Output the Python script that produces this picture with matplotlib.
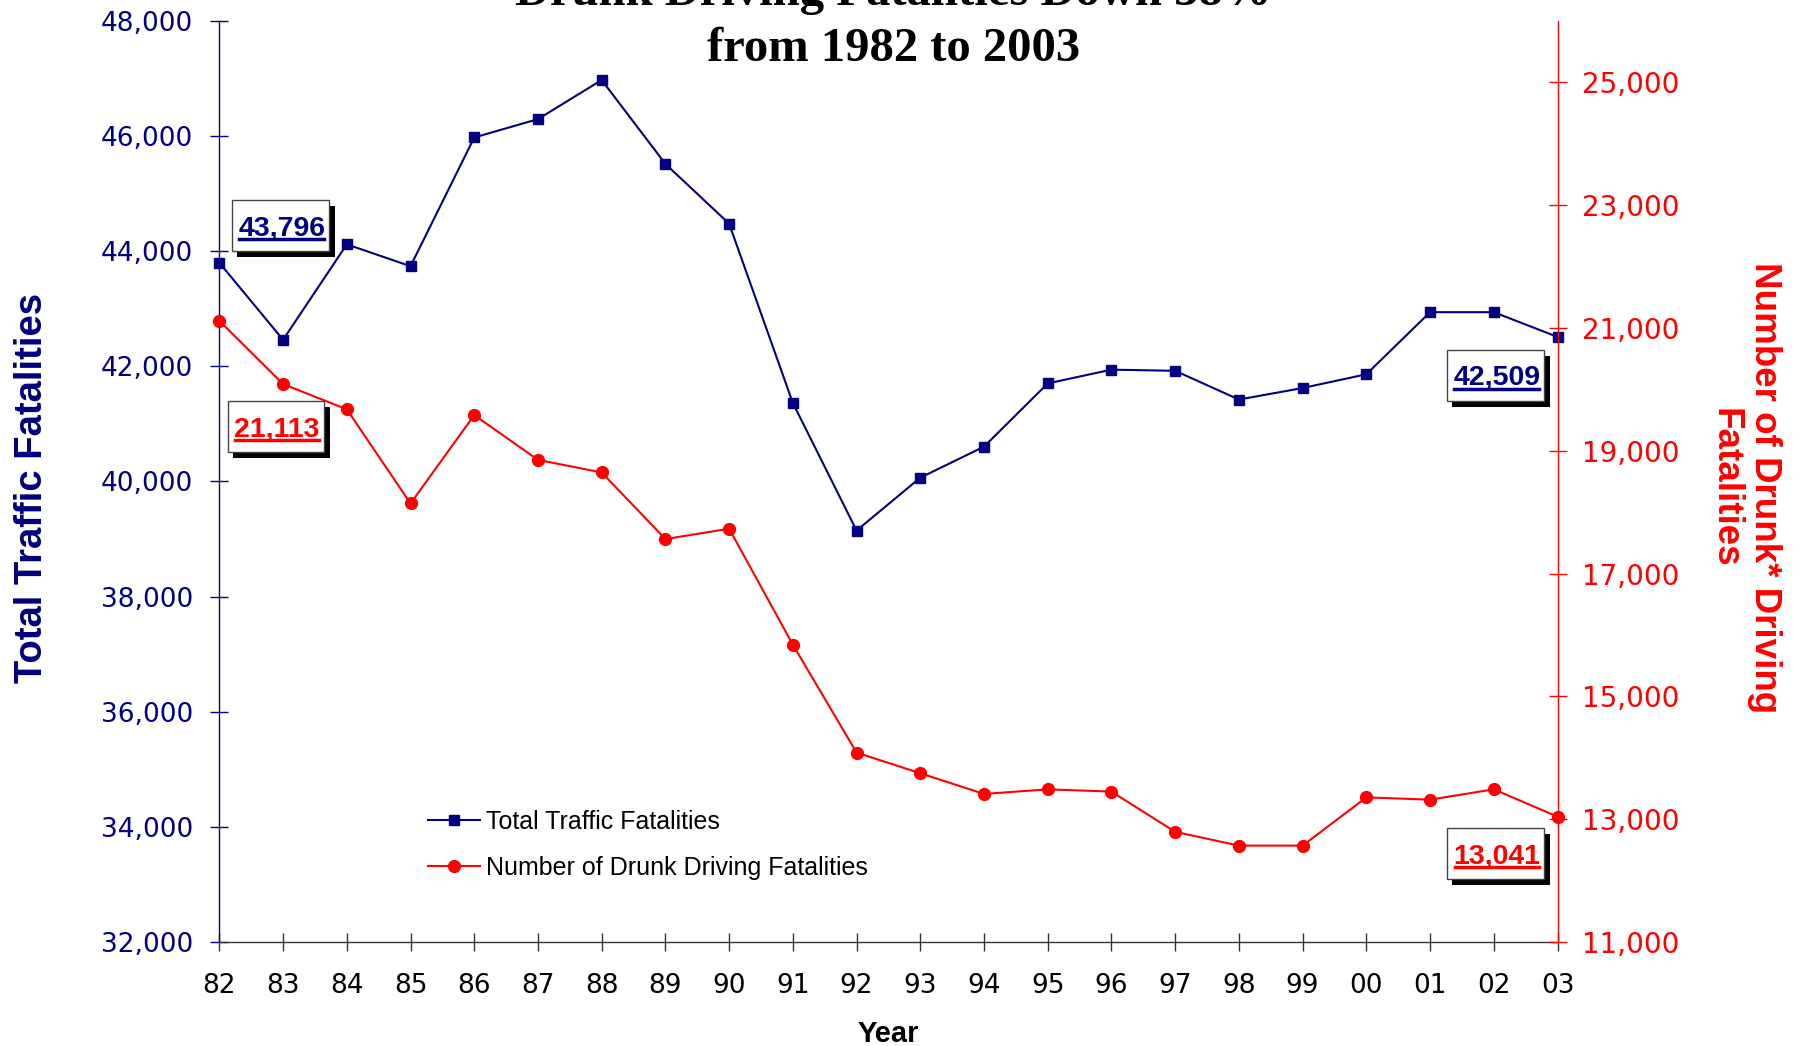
import matplotlib
matplotlib.use("Agg")
import matplotlib.pyplot as plt
from matplotlib.ticker import FuncFormatter
from matplotlib.patches import Rectangle
from matplotlib.lines import Line2D

years = ["82", "83", "84", "85", "86", "87", "88", "89", "90", "91", "92",
         "93", "94", "95", "96", "97", "98", "99", "00", "01", "02", "03"]
total_fatalities = [43796, 42459, 44116, 43737, 45972, 46291, 46970, 45513, 44475,
                    41361, 39146, 40064, 40603, 41701, 41940, 41920, 41421, 41621,
                    41860, 42938, 42938, 42509]
drunk_fatalities = [21113, 20084, 19673, 18140, 19579, 18850, 18645, 17561, 17729,
                    15841, 14084, 13748, 13411, 13486, 13449, 12794, 12570, 12570,
                    13355, 13318, 13486, 13041]
left_ticks = [32000, 34000, 36000, 38000, 40000, 42000, 44000, 46000, 48000]
right_ticks = [11000, 13000, 15000, 17000, 19000, 21000, 23000, 25000]

NAVY = "#000080"
RED = "#FF0000"

fig = plt.figure(figsize=(18.01, 10.46), dpi=100)
ax = fig.add_axes([0.1218, 0.0994, 0.743, 0.8808])
ax2 = ax.twinx()

x = list(range(len(years)))
l1, = ax.plot(x, total_fatalities, color=NAVY, lw=1.5, marker='s', ms=7,
              label="Total Traffic Fatalities", clip_on=False, zorder=3)
l2, = ax2.plot(x, drunk_fatalities, color=RED, lw=1.5, marker='o', ms=8.5,
               label="Number of Drunk Driving Fatalities", clip_on=False, zorder=3)

ax.set_xlim(0, len(years) - 1)
ax.set_ylim(32000, 48000)
ax2.set_ylim(11000, 26000)
ax.set_xticks(x)
ax.set_xticklabels(years)
ax.set_yticks(left_ticks)
ax2.set_yticks(right_ticks)
fmt = FuncFormatter(lambda v, p: f"{v:,.0f}")
ax.yaxis.set_major_formatter(fmt)
ax2.yaxis.set_major_formatter(fmt)

for a in (ax, ax2):
    a.spines['top'].set_visible(False)
    a.set_facecolor('none')
ax.spines['right'].set_visible(False)
ax2.spines['left'].set_visible(False)
ax2.spines['bottom'].set_visible(False)
ax.spines['left'].set_color(NAVY)
ax.spines['left'].set_linewidth(1.0)
ax2.spines['right'].set_color(RED)
ax2.spines['right'].set_linewidth(1.0)
ax.spines['bottom'].set_color('#333333')
ax.spines['bottom'].set_linewidth(1.0)

ax.tick_params(axis='x', direction='inout', length=13, width=1, color='#333333',
               labelsize=19, labelcolor='black', pad=16)
ax.tick_params(axis='y', direction='inout', length=13, width=1, color=NAVY,
               labelsize=19, labelcolor=NAVY, pad=12.5)
ax2.tick_params(axis='y', direction='inout', length=13, width=1, color=RED,
                labelsize=20, labelcolor=RED, pad=11)
for lab in ax.get_xticklabels() + ax.get_yticklabels() + ax2.get_yticklabels():
    lab.set_fontfamily('DejaVu Sans')

ax.set_xlabel("Year", fontsize=21, fontweight='bold', family='Liberation Sans', va='center')
ax.xaxis.set_label_coords(0.5, -0.0995)
ax.set_ylabel("Total Traffic Fatalities", fontsize=27.5, fontweight='bold',
              family='Liberation Sans', color=NAVY, va='center', ha='center')
ax.yaxis.set_label_coords(-0.1400, 0.493)
ax2.set_ylabel("Number of Drunk* Driving\nFatalities", fontsize=26.5, fontweight='bold',
               family='Liberation Sans', color=RED, rotation=270, linespacing=1.15,
               va='center', ha='center')
ax2.yaxis.set_label_coords(1.1400, 0.493)

fig.text(0.496, 0.9953, "Drunk Driving Fatalities Down 38%", ha='center', va='baseline',
         fontsize=35, fontweight='bold', family='Liberation Serif')
fig.text(0.496, 0.9415, "from 1982 to 2003", ha='center', va='baseline',
         fontsize=35, fontweight='bold', family='Liberation Serif')

leg = fig.legend(handles=[l1, l2], loc='upper left', bbox_to_anchor=(0.2305, 0.238),
                 frameon=False, handlelength=2.1, handletextpad=0.25,
                 labelspacing=0.9, borderpad=0, prop={'family': 'Liberation Sans', 'size': 18})

callout_texts = []


def callout(axis, xi, yv, label, color, off):
    t = axis.annotate(label, xy=(xi, yv), xytext=off, textcoords='offset points',
                      ha='center', va='center', fontsize=20.5, fontweight='bold',
                      family='Liberation Sans', color=color, zorder=10)
    callout_texts.append((t, label, color))


callout(ax, 0, total_fatalities[0], f"{total_fatalities[0]:,}", NAVY, (45, 25))
callout(ax2, 0, drunk_fatalities[0], f"{drunk_fatalities[0]:,}", RED, (41.5, -78))
callout(ax, len(years) - 1, total_fatalities[-1], f"{total_fatalities[-1]:,}", NAVY, (-43.6, -29.5))
callout(ax2, len(years) - 1, drunk_fatalities[-1], f"{drunk_fatalities[-1]:,}", RED, (-43.6, -28.5))

fig.canvas.draw()
renderer = fig.canvas.get_renderer()
W, H = fig.bbox.width, fig.bbox.height
for t, label, color in callout_texts:
    e = t.get_window_extent(renderer)
    t.set_visible(False)
    ul = e.y0 + 2
    bx0, bx1 = e.x0 - 6.5, e.x1 + 4
    by0, by1 = ul - 12, e.y1 + 15
    fig.add_artist(Rectangle(((bx0 + 5) / W, (by0 - 6) / H), (bx1 - bx0 + 1) / W, (by1 - by0) / H,
                             transform=fig.transFigure, fc='black', ec='black', lw=0, zorder=8))
    fig.add_artist(Rectangle((bx0 / W, by0 / H), (bx1 - bx0) / W, (by1 - by0) / H,
                             transform=fig.transFigure, fc='white', ec='#444444', lw=1, zorder=9))
    fig.add_artist(Line2D([(e.x0 + 1) / W, (e.x1 - 1) / W], [ul / H, ul / H],
                          transform=fig.transFigure, color=color, lw=2.5, zorder=11))
    fig.text((e.x0 + e.x1) / 2 / W, (e.y0 + e.y1) / 2 / H, label, ha='center', va='center',
             fontsize=20.5, fontweight='bold', family='Liberation Sans', color=color, zorder=12)

fig.savefig("out.png", dpi=100)
